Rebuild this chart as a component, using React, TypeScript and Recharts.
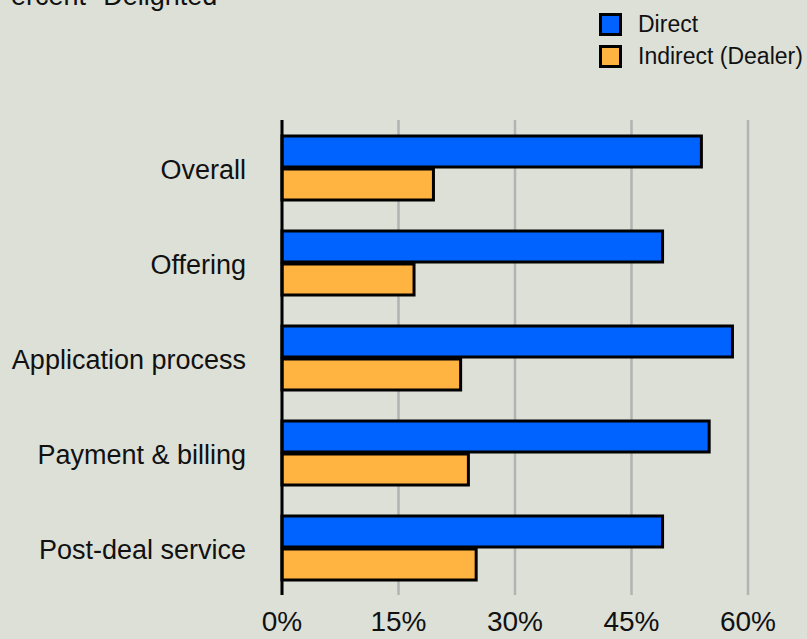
import React from "react";
import { BarChart, Bar, XAxis, YAxis, CartesianGrid } from "recharts";

const categories = [
  "Overall",
  "Offering",
  "Application process",
  "Payment & billing",
  "Post-deal service",
];
const direct = [54, 49, 58, 55, 49];
const indirect = [19.5, 17, 23, 24, 25];
const xTicks = [0, 15, 30, 45, 60];

const data = categories.map((name, i) => ({
  name,
  direct: direct[i],
  indirect: indirect[i],
}));

const FONT = '"Liberation Sans", Arial, Helvetica, sans-serif';
const BLUE = "#0062FF";
const ORANGE = "#FFB340";

function LegendBox() {
  const items = [
    { label: "Direct", color: BLUE },
    { label: "Indirect (Dealer)", color: ORANGE },
  ];
  return (
    <div
      style={{
        position: "absolute",
        left: 599,
        top: 8,
        width: 208,
        fontFamily: FONT,
      }}
    >
      {items.map((it) => (
        <div
          key={it.label}
          style={{ display: "flex", alignItems: "center", height: 32 }}
        >
          <span
            style={{
              width: 17,
              height: 17,
              background: it.color,
              border: "3px solid #000",
              marginRight: 16,
            }}
          />
          <span style={{ fontSize: 23, color: "#111", whiteSpace: "nowrap" }}>
            {it.label}
          </span>
        </div>
      ))}
    </div>
  );
}

export default function App() {
  return (
    <div
      style={{
        position: "absolute",
        left: 0,
        top: 0,
        width: 807,
        height: 639,
        overflow: "hidden",
        background: "#dce0d7",
        fontFamily: FONT,
      }}
    >
      <div
        style={{
          position: "absolute",
          left: -7,
          top: -19,
          fontSize: 27,
          color: "#111",
          whiteSpace: "nowrap",
          lineHeight: "30px",
        }}
      >
        Percent "Delighted"
      </div>
      <LegendBox />
      <BarChart
        width={807}
        height={639}
        data={data}
        layout="vertical"
        margin={{ top: 120, right: 59, bottom: 0, left: 0 }}
        barSize={31}
        barGap={2}
      >
        <CartesianGrid horizontal={false} stroke="#b3b3b3" strokeWidth={2.5} />
        <XAxis
          type="number"
          domain={[0, 60]}
          ticks={xTicks}
          tickFormatter={(v) => `${v}%`}
          axisLine={false}
          tickLine={false}
          tickSize={0}
          tickMargin={16}
          height={44}
          interval={0}
          tick={{ fontSize: 28, fill: "#111", fontFamily: FONT }}
        />
        <YAxis
          type="category"
          dataKey="name"
          width={282}
          axisLine={{ stroke: "#000", strokeWidth: 3 }}
          tickLine={false}
          tickSize={0}
          tickMargin={36}
          tick={{ fontSize: 27, fill: "#111", fontFamily: FONT, dy: 2 }}
        />
        <Bar
          dataKey="direct"
          fill={BLUE}
          stroke="#000"
          strokeWidth={3}
          isAnimationActive={false}
        />
        <Bar
          dataKey="indirect"
          fill={ORANGE}
          stroke="#000"
          strokeWidth={3}
          isAnimationActive={false}
        />
      </BarChart>
    </div>
  );
}
